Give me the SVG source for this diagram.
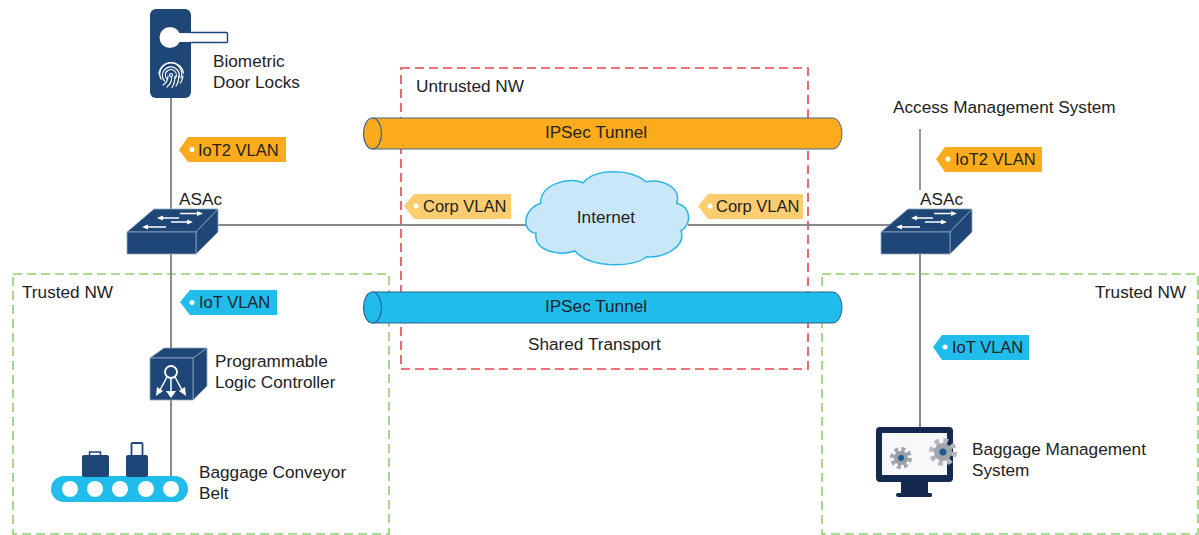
<svg xmlns="http://www.w3.org/2000/svg" width="1199" height="535" viewBox="0 0 1199 535">
<style>
text{font-family:"Liberation Sans",Arial,sans-serif;font-size:17.2px;fill:#222}
.tag text{font-size:16.5px}
.zone{fill:none;stroke-width:1.6;stroke-dasharray:9 5}
.line{fill:none;stroke:#8a8a8a;stroke-width:2}
.navy{fill:#1e4676}
.edge{stroke:#8fa6c0;stroke-width:.8;stroke-linejoin:round}
.wa{fill:#fff}
.or{fill:#fcab1c}.bl{fill:#1fbcec}.ye{fill:#fdcd6f}
.dot{fill:#fff}
.fp{fill:none;stroke:#fff;stroke-width:1.2;stroke-linecap:round}
</style>
<rect width="1199" height="535" fill="#fff"/>
<g id="zones">
<rect class="zone" x="401" y="68" width="407" height="301" stroke="#e8444f"/>
<rect class="zone" x="13" y="274" width="376" height="260" stroke="#8cd16a"/>
<rect class="zone" x="822" y="274" width="376" height="260" stroke="#8cd16a"/>
<text x="416" y="92">Untrusted NW</text>
<text x="22" y="298">Trusted NW</text>
<text x="1095" y="298">Trusted NW</text>
<text x="528" y="350">Shared Transport</text>
</g>
<g id="connectors">
<path class="line" d="M171 97V210M171 254V476M218 225H527M688 225H890M920 254V428"/>
<path d="M920 129V190" fill="none" stroke="#777" stroke-width="1.5"/>
</g>
<g id="tunnel-orange">
<path class="or" stroke="#4a6a8c" d="M372 118H833A9 15.500 0 0 1 842 133.500A9 15.500 0 0 1 833 149H372Z"/>
<ellipse class="or" cx="372.500" cy="133.500" rx="9" ry="15.500" stroke="#2f5f94" stroke-width="1.200"/>
<text x="596" y="138" text-anchor="middle">IPSec Tunnel</text>
</g>
<g id="tunnel-blue">
<path class="bl" stroke="#2f5f8c" d="M372 292H833A9 15.500 0 0 1 842 307.500A9 15.500 0 0 1 833 323H372Z"/>
<ellipse class="bl" cx="372.500" cy="307.500" rx="9" ry="15.500" stroke="#2f5f94" stroke-width="1.200"/>
<text x="596" y="312" text-anchor="middle">IPSec Tunnel</text>
</g>
<g id="internet">
<path fill="#c9e8f7" stroke="#2bb5e8" stroke-width="1.500" d="M540.700 203.300C540 185 566.700 176.700 583.300 182.700C595 168.300 630 168.300 646 181.700C663.300 178.300 681.700 188.300 676.700 203.300C691.700 206.700 691.700 225 681 230.700C686.700 246.700 663.300 258.300 646.700 256.700C633.300 268.300 590 268.300 575 251C556.700 256.700 533.300 250 536 233.300C521.700 231.700 521.700 210 540.700 203.300Z"/>
<text x="606" y="223" text-anchor="middle">Internet</text>
</g>
<g id="door-lock">
<rect class="navy" x="150" y="9" width="41" height="89" rx="6"/>
<path fill="#fff" stroke="#1e4676" stroke-width="1.400" d="M170 32.500H226.500Q227.500 32.500 227.500 33.500V41.500Q227.500 42.500 226.500 42.500H170Z"/>
<circle class="wa" cx="170" cy="37.500" r="10.500"/>
<path fill="#fff" d="M176 33.200H191V41.800H176Z"/>
<g class="fp">
<circle cx="171" cy="75" r="1.500"/>
<path d="M167 79A5.500 5.500 0 1 1 175.500 78"/>
<path d="M164.500 81A8.500 8.500 0 1 1 178.500 79"/>
<path d="M161 79A11 11 0 1 1 181 78"/>
<path d="M159 74A12.500 12.500 0 0 1 171 62.500A12.500 12.500 0 0 1 183.500 73"/>
<path d="M163 85Q168 82 168 76M167 87Q172 83 171.500 77M172 87.500Q175 83 175 76M176 86Q179 82 178.500 76M180.500 83Q182.500 80 183 76"/>
</g>
<text x="213" y="67">Biometric</text>
<text x="213" y="88">Door Locks</text>
</g>
<g id="tag-iot2-left" class="tag">
<path class="or" d="M179 150L188 137H286V162H188Z"/><circle class="dot" cx="192" cy="149.500" r="2.500"/>
<text x="198" y="156">IoT2 VLAN</text>
</g>
<g id="tag-iot-left" class="tag">
<path class="bl" d="M180 302L190 290H277V315H190Z"/><circle class="dot" cx="192" cy="302.500" r="2.500"/>
<text x="199" y="308">IoT VLAN</text>
</g>
<g id="tag-corp-left" class="tag">
<path class="ye" d="M404 206L414 194H511V219H414Z"/><circle class="dot" cx="416" cy="206" r="2.500"/>
<text x="423" y="212">Corp VLAN</text>
</g>
<g id="tag-corp-right" class="tag">
<path class="ye" d="M698 206L708 194H803V219H708Z"/><circle class="dot" cx="710" cy="206" r="2.500"/>
<text x="716" y="212">Corp VLAN</text>
</g>
<g id="tag-iot2-right" class="tag">
<path class="or" d="M936 159L945 147H1042V172H945Z"/><circle class="dot" cx="948" cy="159" r="2.500"/>
<text x="955" y="165">IoT2 VLAN</text>
</g>
<g id="tag-iot-right" class="tag">
<path class="bl" d="M933 347L942 335H1029V360H942Z"/><circle class="dot" cx="945" cy="347" r="2.500"/>
<text x="952" y="353">IoT VLAN</text>
</g>
<defs>
<g id="switch">
<path class="navy edge" d="M0 23L27 0H91L69 23Z"/>
<path class="navy edge" d="M69 23L91 0V23L69 45Z"/>
<path class="navy edge" d="M0 23H69V45H0Z"/>
<path class="wa" d="M53 3.800H70V2L76 4.500L70 7V5.200H53Z"/>
<path class="wa" d="M36 8.300H52V9.700H36V11.500L30 9L36 6.500Z"/>
<path class="wa" d="M44 12.300H60V10.500L66 13L60 15.500V13.700H44Z"/>
<path class="wa" d="M21 17.300H39V18.700H21V20.500L15 18L21 15.500Z"/>
</g>
</defs>
<g id="switch-left">
<use href="#switch" x="127" y="209"/>
<text x="179" y="205">ASAc</text>
</g>
<g id="switch-right">
<use href="#switch" x="881" y="209"/>
<text x="920" y="205">ASAc</text>
</g>
<g id="plc">
<path class="navy edge" d="M150 358L164 348H207L193 358Z"/>
<path class="navy edge" d="M193 358L207 348V386L193 400Z"/>
<path class="navy edge" d="M150 358H193V400H150Z"/>
<circle cx="171" cy="372" r="6" fill="none" stroke="#fff" stroke-width="1.800"/>
<path d="M167 377L160 390M171 378V393M175 377L182 390" fill="none" stroke="#fff" stroke-width="1.500"/>
<path class="wa" d="M156 396L157 387L163 391ZM171 398L166 391H176ZM186 396L179 391L185 387Z"/>
<text x="215" y="367">Programmable</text>
<text x="215" y="388">Logic Controller</text>
</g>
<g id="conveyor">
<rect class="bl" x="51" y="476" width="137" height="26" rx="13"/>
<circle class="wa" cx="70" cy="489" r="8"/><circle class="wa" cx="95" cy="489" r="8"/><circle class="wa" cx="120" cy="489" r="8"/><circle class="wa" cx="146" cy="489" r="8"/><circle class="wa" cx="171" cy="489" r="8"/>
<rect class="navy" x="82" y="455" width="27" height="22" rx="2"/>
<rect x="89.500" y="452" width="11" height="4" fill="none" stroke="#1e4676" stroke-width="1.500"/>
<rect class="navy" x="126" y="455" width="22" height="22" rx="2"/>
<rect x="131.500" y="443" width="11" height="13" rx="1" fill="none" stroke="#1e4676" stroke-width="1.800"/>
<text x="199" y="478">Baggage Conveyor</text>
<text x="199" y="499">Belt</text>
</g>
<g id="access-management">
<text x="893" y="113">Access Management System</text>
</g>
<g id="baggage-management">
<path fill="#14294f" d="M880 427H949Q953 427 953 431V478Q953 482 949 482H928V493H931Q932 493 932 495T931 497H898Q896 497 896 495T898 493H901V482H880Q876 482 876 478V431Q876 427 880 427Z"/>
<rect x="882" y="433" width="65" height="42" fill="#f7f8fa"/>
<circle cx="901" cy="458" r="8" fill="none" stroke="#a2a6ad" stroke-width="6" stroke-dasharray="3.500 2.780"/>
<circle cx="901" cy="458" r="7" fill="#9a9ea6"/><circle cx="901" cy="458" r="3" fill="#1d5a94"/>
<circle cx="943" cy="452" r="11" fill="none" stroke="#b4b7bd" stroke-width="6" stroke-dasharray="4.500 4.140"/>
<circle cx="943" cy="452" r="9" fill="#a0a4ab"/><circle cx="943" cy="452" r="3.500" fill="#1d5a94"/>
<text x="972" y="455">Baggage Management</text>
<text x="972" y="476">System</text>
</g>
</svg>
